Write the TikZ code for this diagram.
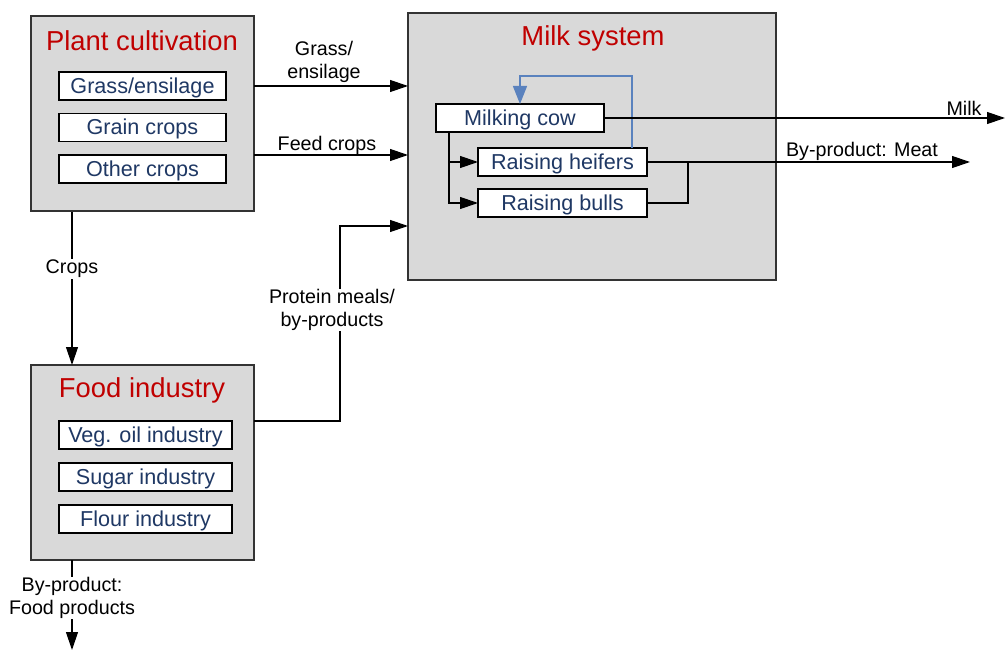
\documentclass[tikz,border=0pt]{standalone}
\usepackage{fontspec}
\setmainfont{Liberation Sans}
\usetikzlibrary{positioning,arrows.meta,calc}
\definecolor{boxgray}{HTML}{D9D9D9}
\definecolor{titlered}{HTML}{C00000}
\definecolor{itemblue}{HTML}{1F3864}
\definecolor{loopblue}{HTML}{5A82BE}
\begin{document}
\begin{tikzpicture}[
    x=1pt, y=-1pt,
    >={Triangle[length=18pt,width=12pt]},
    font=\fontsize{19.7}{22.5}\selectfont,
    group/.style={
        draw=black!80,
        line width=1.2pt,
        fill=boxgray,
        outer sep=0pt,
        inner sep=0pt
    },
    title/.style={
        text=titlered,
        font=\fontsize{27.4}{30}\selectfont
    },
    item/.style={
        draw=black,
        line width=1.2pt,
        fill=white,
        text=itemblue,
        minimum width=167pt,
        minimum height=28pt,
        text height=19pt,
        text depth=4.5pt,
        inner sep=0pt,
        outer sep=0pt,
        font=\fontsize{21.6}{24}\selectfont
    },
    lbl/.style={
        align=center,
        fill=white,
        inner sep=1pt
    },
    arr/.style={->, line width=1.2pt},
    line/.style={line width=1.2pt}
]
\useasboundingbox (0,0) rectangle (1005,650);

% plant cultivation
\node[group, minimum width=223pt, minimum height=195pt] (plant) at (142.5,113.5) {};
\node[title] (planttitle) at (142,41) {Plant cultivation};
\node[item] (grass) at (142.5,86) {Grass/ensilage};
\node[item] (grain) at (142.5,127.5) {Grain crops};
\node[item] (other) at (142.5,169) {Other crops};

% food industry
\node[group, minimum width=223pt, minimum height=195pt] (food) at (142.5,462.5) {};
\node[title] (foodtitle) at (142,390) {Food industry};
\node[item, minimum width=173pt] (vegoil) at (145.5,435) {Veg. oil industry};
\node[item, minimum width=173pt] (sugar) at (145.5,477) {Sugar industry};
\node[item, minimum width=173pt] (flour) at (145.5,519) {Flour industry};

% milk system
\node[group, minimum width=368pt, minimum height=267pt] (milk) at (592,146.5) {};
\node[title] (milktitle) at (593,38) {Milk system};
\node[item, minimum width=168pt] (cow) at (520,118) {Milking cow};
\node[item, minimum width=169pt] (heifers) at (562.5,162) {Raising heifers};
\node[item, minimum width=169pt] (bulls) at (562.5,203) {Raising bulls};

% inputs to the milk system
\draw[arr] (grass -| plant.east) -- (grass -| milk.west);
\node[lbl, fill=none] (grasslbl) at (324,62) {Grass/\\ensilage};
\coordinate (feedout) at (254,155);
\draw[arr] (feedout) -- (feedout -| milk.west);
\node[lbl, fill=none] (feedlbl) at (327,145) {Feed crops};
\coordinate (protout) at (254,421);
\coordinate (protin) at (408,226);
\draw[arr] (protout) -| (340,226) -- (protin);
\node[lbl] (protlbl) at (332,310) {Protein meals/\\by-products};

% crops down to food industry
\coordinate (cropsout) at (72,212);
\draw[arr] (cropsout) -- (cropsout |- food.north);
\node[lbl] (cropslbl) at (72,269) {Crops};
\coordinate (foodout) at (72,560);
\draw[arr] (foodout) -- (72,650);
\node[lbl] (foodlbl) at (72,598) {By-product:\\Food products};

% inside the milk system
\coordinate (split) at (449,132);
\draw[arr] (split) |- (heifers.west);
\draw[arr] (split) |- (bulls.west);
\draw[arr, draw=loopblue, >={Triangle[length=18pt,width=14pt]}]
    (632,148) -- (632,76) -| (cow.north);
\draw[line] (bulls.east) -| (688,162);

% outputs
\coordinate (milkend) at (1005,118);
\draw[arr] (cow.east) -- (milkend);
\node (milklbl) at (964,108) {Milk};
\coordinate (meatend) at (970,162);
\draw[arr] (heifers.east) -- (meatend);
\node (meatlbl) at (862,151) {By-product: Meat};

\end{tikzpicture}
\end{document}
